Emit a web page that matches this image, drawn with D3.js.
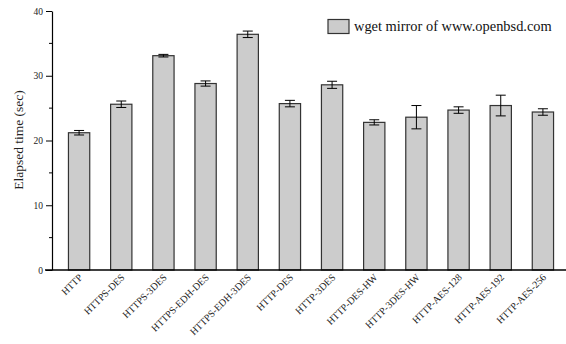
<!DOCTYPE html>
<html>
<head>
<meta charset="utf-8">
<script src="https://cdn.jsdelivr.net/npm/d3@7"></script>
<style>
  body { margin: 0; background: #fff; }
  svg { display: block; font-family: "Liberation Serif", "DejaVu Serif", serif; }
</style>
</head>
<body>
<svg id="chart" width="566" height="344"></svg>
<script>
// categories and measured values (seconds)
const categories = ['HTTP', 'HTTPS-DES', 'HTTPS-3DES', 'HTTPS-EDH-DES', 'HTTPS-EDH-3DES',
    'HTTP-DES', 'HTTP-3DES', 'HTTP-DES-HW', 'HTTP-3DES-HW', 'HTTP-AES-128', 'HTTP-AES-192', 'HTTP-AES-256'];
const elapsed = [21.2, 25.6, 33.1, 28.8, 36.4, 25.7, 28.6, 22.8, 23.6, 24.7, 25.4, 24.4];
const errors = [0.35, 0.5, 0.2, 0.4, 0.5, 0.5, 0.55, 0.4, 1.8, 0.5, 1.6, 0.5];
const majorTicks = [0, 10, 20, 30, 40];
const minorTicks = [5, 15, 25, 35];
const legendLabel = 'wget mirror of www.openbsd.com';

const svg = d3.select('#chart');
const plotLeft = 52, plotRight = 570, plotTop = 11, plotBottom = 270;

const x = d3.scaleBand()
    .domain(categories)
    .range([plotLeft, plotRight])
    .paddingInner(0.495)
    .paddingOuter(0.39);

const y = d3.scaleLinear()
    .domain([0, 40])
    .range([plotBottom, plotTop]);

// bars
svg.append('g')
    .selectAll('rect')
    .data(categories)
    .enter().append('rect')
    .attr('x', d => x(d))
    .attr('y', (d, i) => y(elapsed[i]))
    .attr('width', x.bandwidth())
    .attr('height', (d, i) => y(0) - y(elapsed[i]))
    .attr('fill', '#cccccc')
    .attr('stroke', '#333')
    .attr('stroke-width', 1.2);

// error bars
const err = svg.append('g')
    .selectAll('g')
    .data(categories)
    .enter().append('g')
    .attr('stroke', '#000')
    .attr('stroke-width', 1);

err.append('line')
    .attr('x1', d => x(d) + x.bandwidth() / 2)
    .attr('x2', d => x(d) + x.bandwidth() / 2)
    .attr('y1', (d, i) => y(elapsed[i] - errors[i]))
    .attr('y2', (d, i) => y(elapsed[i] + errors[i]));

[-1, 1].forEach(s => {
    err.append('line')
        .attr('x1', d => x(d) + x.bandwidth() / 2 - 5)
        .attr('x2', d => x(d) + x.bandwidth() / 2 + 5)
        .attr('y1', (d, i) => y(elapsed[i] + s * errors[i]))
        .attr('y2', (d, i) => y(elapsed[i] + s * errors[i]));
});

// y axis
const yAxis = svg.append('g')
    .attr('transform', `translate(${plotLeft},0)`)
    .call(d3.axisLeft(y).tickValues(majorTicks).tickSize(6).tickSizeOuter(0).tickPadding(3));
yAxis.selectAll('text').attr('font-size', 9.5).attr('font-family', 'Liberation Serif').attr('fill', '#222');
yAxis.select('.domain').attr('stroke-width', 1.2);

svg.append('g')
    .attr('transform', `translate(${plotLeft},0)`)
    .selectAll('line')
    .data(minorTicks)
    .enter().append('line')
    .attr('x1', -3).attr('x2', 0)
    .attr('y1', d => y(d)).attr('y2', d => y(d))
    .attr('stroke', '#000');

// x axis
svg.append('line')
    .attr('x1', plotLeft - 7).attr('x2', 566)
    .attr('y1', plotBottom).attr('y2', plotBottom)
    .attr('stroke', '#000')
    .attr('stroke-width', 1.5);

svg.append('g')
    .selectAll('text')
    .data(categories)
    .enter().append('text')
    .attr('transform', d => `translate(${x(d) + x.bandwidth() / 2 + 4},${plotBottom + 8}) rotate(-45)`)
    .attr('text-anchor', 'end')
    .attr('font-size', 10)
    .attr('fill', '#222')
    .text(d => d);

// y label
svg.append('text')
    .attr('transform', `translate(23,140) rotate(-90)`)
    .attr('text-anchor', 'middle')
    .attr('font-size', 13.5)
    .attr('fill', '#222')
    .text('Elapsed time (sec)');

// legend
svg.append('rect')
    .attr('x', 328).attr('y', 19.5)
    .attr('width', 21).attr('height', 14)
    .attr('fill', '#cccccc')
    .attr('stroke', '#333')
    .attr('stroke-width', 1.2);
svg.append('text')
    .attr('x', 354).attr('y', 31)
    .attr('font-size', 14.4)
    .attr('fill', '#111')
    .text(legendLabel);
</script>
</body>
</html>
